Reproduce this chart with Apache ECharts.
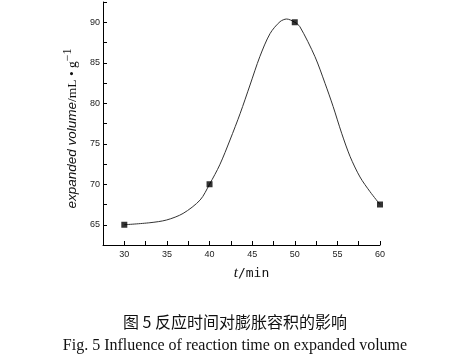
<!DOCTYPE html>
<html><head><meta charset="utf-8">
<script src="https://cdn.jsdelivr.net/npm/echarts@6/dist/echarts.min.js"></script>
<style>html,body{margin:0;padding:0;background:#fff}#c{width:469px;height:358px}</style>
</head><body><div id="c"></div>
<script>
// measured points (t/min, expanded volume)
const measuredT = [30, 40, 50, 60];
const measuredV = [65, 70, 90, 67.5];
// fitted curve
const curveT = [30, 33.0, 34.97, 36.9, 38.9, 40, 41.2, 42.4, 43.6, 44.75, 45.9, 47.1, 48.27, 49.05, 50, 50.6, 52.37, 53.55, 54.5, 55.5, 56.5, 57.65, 58.83, 60];
const curveV = [65, 65.25, 65.59, 66.4, 68.06, 70, 72.4, 75.46, 78.76, 82.25, 85.75, 88.6, 90.07, 90.4, 90, 89.45, 85.75, 82.46, 79.6, 76.3, 73.4, 70.9, 69.08, 67.5];
const yLabels = [65, 70, 75, 80, 85, 90];
const xLabels = [30, 35, 40, 45, 50, 55, 60];
const captionCN = '图 5 反应时间对膨胀容积的影响';
const captionEN = 'Fig. 5 Influence of reaction time on expanded volume';

const chart = echarts.init(document.getElementById('c'), null, {renderer: 'canvas'});
const axisFont = 'Liberation Sans, Arial, sans-serif';
chart.setOption({
  animation: false,
  backgroundColor: '#fff',
  grid: {left: 103, top: 2, width: 277, height: 243},
  xAxis: {
    type: 'value', min: 27.5, max: 60, interval: 2.5,
    axisLine: {lineStyle: {color: '#000', width: 1}},
    axisTick: {inside: true, length: 4, lineStyle: {color: '#000'}},
    splitLine: {show: false},
    axisLabel: {
      margin: 5, fontSize: 9, color: '#222', fontFamily: axisFont,
      formatter: v => xLabels.includes(v) ? String(v) : ''
    },
    name: '{i|t}{m|/min}', nameLocation: 'middle', nameGap: 21,
    nameTextStyle: {
      padding: [0, 0, 0, 20],
      rich: {
        i: {fontFamily: 'Liberation Serif, serif', fontStyle: 'italic', fontSize: 15, color: '#111'},
        m: {fontFamily: 'DejaVu Sans Mono, Liberation Mono, monospace', fontSize: 13, color: '#111'}
      }
    }
  },
  yAxis: {
    type: 'value', min: 62.5, max: 92.5, interval: 2.5,
    axisLine: {show: true, lineStyle: {color: '#000', width: 1}},
    axisTick: {show: true, inside: true, length: 4, lineStyle: {color: '#000'}},
    splitLine: {show: false},
    axisLabel: {
      margin: 3, fontSize: 9, color: '#222', fontFamily: axisFont,
      formatter: v => yLabels.includes(v) ? String(v) : ''
    },
    name: '{i|expanded volume}{s|/mL • g}{p|−1}', nameLocation: 'middle', nameGap: 20,
    nameTextStyle: {
      padding: [0, 10, 0, 0],
      rich: {
        i: {fontFamily: 'Liberation Sans, Arial, sans-serif', fontStyle: 'italic', fontSize: 13.5, color: '#111'},
        s: {fontFamily: 'Liberation Serif, serif', fontSize: 13.5, color: '#111'},
        p: {fontFamily: 'Liberation Serif, serif', fontSize: 12, color: '#111', padding: [0, 0, 8, 0]}
      }
    }
  },
  series: [
    {
      type: 'line', data: curveT.map((t, i) => [t, curveV[i]]),
      smooth: 0.3, showSymbol: false, silent: true,
      lineStyle: {color: '#333', width: 1}
    },
    {
      type: 'scatter', data: measuredT.map((t, i) => [t, measuredV[i]]),
      symbol: 'rect', symbolSize: 6, itemStyle: {color: '#000'}, z: 5
    }
  ],
  graphic: [
    {type: 'text', x: 235, y: 322, style: {text: captionCN, font: '16px "Noto Sans CJK SC", sans-serif', fill: '#111', textAlign: 'center', textVerticalAlign: 'middle'}},
    {type: 'text', x: 235, y: 346, style: {text: captionEN, font: '16px "Liberation Serif", serif', fill: '#111', textAlign: 'center', textVerticalAlign: 'middle'}}
  ]
});
</script>
</body></html>
